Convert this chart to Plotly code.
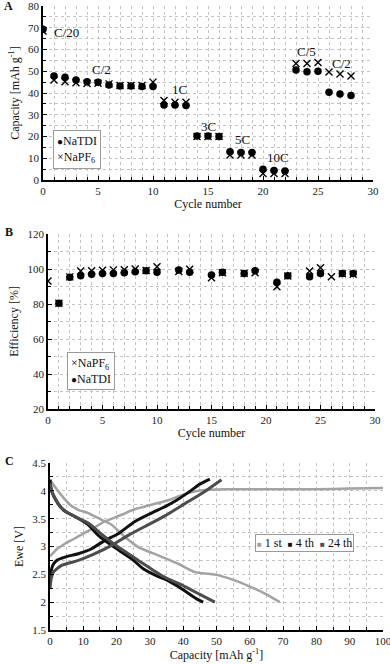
import plotly.graph_objects as go

# ---------------- Panel A: capacity vs cycle ----------------
cycles = list(range(29))
cap_natdi = [69.3, 47.8, 47.2, 46.0, 45.2, 44.9, 43.7, 43.2, 43.2, 43.0, 43.0,
             34.5, 34.5, 34.3, 20.2, 20.2, 20.0, 13.0, 12.6, 12.6, 4.9, 4.4, 4.1,
             50.6, 49.8, 50.0, 40.3, 39.5, 38.9]
cap_napf6 = [68.5, 46.0, 45.2, 44.7, 44.4, 44.5, 44.2, 43.5, 43.5, 43.5, 45.0,
             36.5, 35.8, 35.8, 20.0, 20.0, 20.0, 11.5, 11.5, 11.5, 3.0, 3.0, 3.0,
             53.6, 53.6, 54.0, 49.7, 48.7, 47.8]
rate_labels = ["C/20", "C/2", "1C", "3C", "5C", "10C", "C/5", "C/2"]
rate_label_x = [0.8, 5.3, 12.4, 15.05, 18.1, 21.4, 23.97, 27.1]
rate_label_y = [68.0, 50.6, 41.4, 24.8, 18.4, 10.3, 59.0, 53.6]

# ---------------- Panel B: efficiency vs cycle ----------------
eff_napf6 = [93.1, 80.4, 95.5, 98.9, 99.0, 99.3, 99.5, 99.6, 100.0, 99.2, 101.3,
             None, 98.6, 99.9, None, 95.0, 97.8, None, 97.5, 97.8, None, 89.9, 96.0,
             None, 98.9, 100.7, 95.6, 97.3, 97.0]
eff_natdi = [None, 80.4, 95.3, 96.2, 97.0, 97.5, 97.5, 97.9, 98.5, 99.0, 98.1,
             None, 99.4, 98.1, None, 96.6, 98.1, None, 97.5, 99.0, None, 92.4, 96.2,
             None, 95.6, 97.5, None, 97.5, 97.5]

# ---------------- Panel C: voltage profiles ----------------
cap_1st_ch = [0, 2, 4.5, 7, 10, 13, 16.5, 21.5, 25, 28.5, 32.5, 36, 38.5, 41.5,
              44.5, 48, 52.5, 60, 70, 80, 90, 100]
v_1st_ch = [2.82, 2.95, 3.05, 3.13, 3.23, 3.33, 3.45, 3.57, 3.66, 3.72, 3.78, 3.84,
            3.90, 3.96, 4.0, 4.02, 4.03, 4.03, 4.03, 4.03, 4.04, 4.05]
cap_1st_dis = [0, 2.5, 6, 8.5, 11.5, 15.5, 18.5, 22.5, 26.5, 32.5, 38.5, 43.5,
               47.5, 50, 55, 60, 65, 69]
v_1st_dis = [4.2, 3.99, 3.75, 3.66, 3.6, 3.48, 3.39, 3.17, 2.99, 2.84, 2.69, 2.54,
             2.51, 2.49, 2.40, 2.28, 2.14, 2.0]
cap_4th_ch = [0, 0.3, 1, 2, 4.5, 8.5, 12.5, 16.5, 20.5, 25.5, 31.5, 35, 38, 42, 45, 48]
v_4th_ch = [2.33, 2.55, 2.68, 2.75, 2.81, 2.87, 2.96, 3.11, 3.23, 3.45, 3.63, 3.73,
            3.83, 3.99, 4.12, 4.21]
cap_4th_dis = [0, 0.5, 2, 4.5, 7.5, 11.5, 14.5, 18.5, 24.5, 28, 32.5, 35, 38.5, 44, 46]
v_4th_dis = [4.2, 3.99, 3.81, 3.63, 3.54, 3.39, 3.2, 3.02, 2.78, 2.6, 2.46, 2.4,
             2.28, 2.06, 2.0]
cap_24th_ch = [0, 0.3, 1, 3.5, 8.5, 13.5, 18.5, 23.5, 28.5, 34.5, 40.5, 46.5, 51.5]
v_24th_ch = [2.24, 2.4, 2.54, 2.66, 2.75, 2.87, 3.02, 3.2, 3.36, 3.55, 3.77, 3.99, 4.2]
cap_24th_dis = [0, 0.5, 1.5, 3, 5.5, 8, 11.5, 15.5, 19.5, 26.5, 33.5, 40.5, 45, 49.5]
v_24th_dis = [4.14, 4.0, 3.87, 3.72, 3.6, 3.52, 3.42, 3.22, 3.03, 2.75, 2.48, 2.28,
              2.14, 2.0]
cycle_names = ["1 st", "4 th", "24 th"]
cycle_colors = ["#a3a3a3", "#111111", "#4d4d4d"]

SERIF = "Liberation Serif"
GRID = "#c4c4c4"
W, H = 390, 664

fig = go.Figure()

def cross_marker():
    return dict(symbol="x-thin", size=7, color="black", line=dict(width=1.4, color="black"))

def dot_marker():
    return dict(symbol="circle", size=7.5, color="black", line=dict(width=0))

# Panel A traces
fig.add_trace(go.Scatter(x=cycles, y=cap_napf6, mode="markers", name="NaPF6",
                         marker=cross_marker(), xaxis="x", yaxis="y"))
fig.add_trace(go.Scatter(x=cycles, y=cap_natdi, mode="markers", name="NaTDI",
                         marker=dot_marker(), xaxis="x", yaxis="y"))
# Panel B traces
fig.add_trace(go.Scatter(x=cycles, y=eff_napf6, mode="markers", name="NaPF6",
                         marker=cross_marker(), xaxis="x2", yaxis="y2"))
fig.add_trace(go.Scatter(x=cycles, y=eff_natdi, mode="markers", name="NaTDI",
                         marker=dot_marker(), xaxis="x2", yaxis="y2"))
# Panel C traces
curves = [
    (cap_1st_ch, v_1st_ch, cap_1st_dis, v_1st_dis, 2.5),
    (cap_4th_ch, v_4th_ch, cap_4th_dis, v_4th_dis, 3.0),
    (cap_24th_ch, v_24th_ch, cap_24th_dis, v_24th_dis, 3.0),
]
for (cx, cy, dx, dy, lw), name, col in zip(curves, cycle_names, cycle_colors):
    for xx, yy in ((cx, cy), (dx, dy)):
        fig.add_trace(go.Scatter(x=xx, y=yy, mode="lines", name=name,
                                 line=dict(color=col, width=lw, shape="spline", smoothing=0.6),
                                 xaxis="x3", yaxis="y3"))

def px_x(p):
    return p / W

def px_y(p):
    return 1 - p / H

tickfont = dict(family=SERIF, size=11, color="#222")
titlefont = dict(family=SERIF, size=12, color="#111")

def xax(domain, anchor, rng, dtick, minor_dtick, title, standoff):
    return dict(domain=domain, anchor=anchor, range=rng, dtick=dtick, tick0=0,
                showline=True, linecolor="black", linewidth=1.5, mirror=False,
                ticks="inside", ticklen=4, tickcolor="black", tickwidth=1,
                showgrid=True, gridcolor=GRID, griddash="dot", gridwidth=1,
                minor=dict(dtick=minor_dtick, tick0=0, showgrid=True, gridcolor=GRID,
                           griddash="dot", ticks="inside", ticklen=3, tickcolor="black"),
                zeroline=False, tickfont=tickfont, automargin=False,
                ticklabeloverflow="allow",
                title=dict(text=title, font=titlefont, standoff=standoff))

def yax(domain, anchor, rng, dtick, minor_dtick, title, standoff):
    return dict(domain=domain, anchor=anchor, range=rng, dtick=dtick,
                showline=True, linecolor="black", linewidth=1.5,
                ticks="inside", ticklen=4, tickcolor="black", tickwidth=1,
                showgrid=True, gridcolor=GRID, griddash="dot", gridwidth=1,
                minor=dict(dtick=minor_dtick, showgrid=True, gridcolor=GRID,
                           griddash="dot", ticks="inside", ticklen=3, tickcolor="black"),
                zeroline=False, tickfont=tickfont, automargin=False,
                ticklabeloverflow="allow",
                title=dict(text=title, font=titlefont, standoff=standoff))

fig.update_layout(
    width=W, height=H, margin=dict(l=0, r=0, t=0, b=0),
    paper_bgcolor="white", plot_bgcolor="white",
    font=dict(family=SERIF, color="#111"),
    showlegend=False,
    xaxis=xax([px_x(43), px_x(373)], "y", [0, 30], 5, 1, "Cycle number", 2),
    yaxis=yax([px_y(180), px_y(6)], "x", [0, 80], 10, 5, "Capacity [mAh g<sup>-1</sup>]", 6),
    xaxis2=xax([px_x(48), px_x(375)], "y2", [0, 30], 5, 1, "Cycle number", 1),
    yaxis2=yax([px_y(409), px_y(234)], "x2", [20, 120], 20, 10, "Efficiency [%]", 6),
    xaxis3=xax([px_x(50), px_x(383)], "y3", [0, 100], 10, 5, "Capacity [mAh g<sup>-1</sup>]", 1),
    yaxis3=yax([px_y(630), px_y(463)], "x3", [1.5, 4.5], 0.5, 0.25, "Ewe [V]", 6),
)

annotations = []
for i, (lab, lx, ly) in enumerate(zip(rate_labels, rate_label_x, rate_label_y)):
    annotations.append(dict(x=lx, y=ly, xref="x", yref="y", text=lab, showarrow=False,
                            xanchor="left" if i == 0 else "center", yanchor="middle",
                            font=dict(family=SERIF, size=13, color="#111")))
for lab, px, py in [("A", 2, 6), ("B", 3, 232), ("C", 3, 461)]:
    annotations.append(dict(x=px_x(px), y=px_y(py), xref="paper", yref="paper",
                            text="<b>%s</b>" % lab, showarrow=False,
                            xanchor="left", yanchor="middle",
                            font=dict(family=SERIF, size=12, color="#111")))

legend_box = dict(xref="paper", yref="paper", showarrow=False, align="left",
                  xanchor="left", yanchor="top", bgcolor="white",
                  bordercolor="#9a9a9a", borderwidth=1, borderpad=3,
                  font=dict(family=SERIF, size=12, color="#111"))
annotations.append(dict(legend_box, x=px_x(53), y=px_y(130),
                        text="<span style='font-size:10px'>●</span>NaTDI<br>×NaPF<sub>6</sub>"))
annotations.append(dict(legend_box, x=px_x(67), y=px_y(352),
                        text="×NaPF<sub>6</sub><br><span style='font-size:10px'>●</span>NaTDI"))
leg3 = "  ".join("<span style='color:%s;font-size:8px'>■</span> %s" % (c, n)
                 for n, c in zip(cycle_names, cycle_colors))
annotations.append(dict(legend_box, x=px_x(255), y=px_y(534), text=leg3,
                        borderpad=1))
fig.update_layout(annotations=annotations)

fig.write_html("out.html", config={"displayModeBar": False},
               post_script="document.body.style.margin='0px';")
